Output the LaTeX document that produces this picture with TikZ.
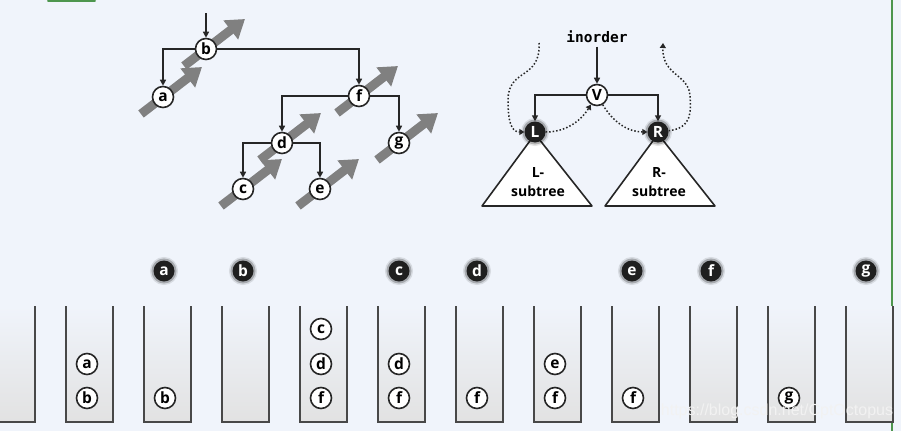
\documentclass[tikz,border=0pt]{standalone}
\usepackage{fontspec}
\setmainfont{Open Sans}
\newfontfamily\monofnt{DejaVu Sans Mono}
\newfontfamily\wmfnt{Liberation Sans}
\usetikzlibrary{arrows.meta,backgrounds}
\definecolor{bg}{RGB}{240,244,251}
\definecolor{ink}{RGB}{38,38,38}
\definecolor{garrow}{RGB}{128,128,128}
\definecolor{sgray}{RGB}{226,226,226}
\definecolor{wallc}{RGB}{72,72,72}
\definecolor{grn}{RGB}{78,150,78}
\begin{document}
\begin{tikzpicture}[x=1pt,y=-1pt,
  tnode/.style={circle,draw=ink,fill=white,line width=1.6pt,minimum size=21pt,inner sep=0pt,
    font=\bfseries\fontsize{15.5}{16}\selectfont},
  dnode/.style={circle,fill=black!88,text=white,minimum size=21pt,inner sep=0pt,
    font=\bfseries\fontsize{15.5}{16}\selectfont,
    preaction={draw=black,line width=7pt,draw opacity=0.10},
    preaction={draw=black,line width=4pt,draw opacity=0.22}},
  conn/.style={draw=ink,line width=1.6pt,-{Triangle[width=6pt,length=6pt]}},
  dotconn/.style={draw=ink,line width=1.5pt,dash pattern=on 1.5pt off 2pt,-{Triangle[width=6pt,length=5pt]}},
  bigarrow/.style={draw=garrow,line width=9pt,-{Triangle[width=23pt,length=18pt]}},
  tri/.style={draw=ink,fill=white,line width=1.6pt,line join=round},
  wallst/.style={draw=wallc,line width=2pt},
  subt/.style={align=center,font=\bfseries\fontsize{14}{19}\selectfont},
]
\useasboundingbox (0,0) rectangle (901,431);
\begin{pgfonlayer}{background}
\fill[bg] (0,0) rectangle (901,431);
\end{pgfonlayer}

% decorations at edges
\draw[grn,line width=2.5pt] (892,0) -- (892,431);
\draw[grn,line width=2pt,line cap=round] (48,0.6) -- (95,0.6);

% ---------- tree ----------
\node[tnode] (b) at (206,49) {b};
\node[tnode] (a) at (163,97) {a};
\node[tnode] (f) at (359,96) {f};
\node[tnode] (d) at (282,143) {d};
\node[tnode] (g) at (399,143) {g};
\node[tnode] (c) at (243,189) {c};
\node[tnode] (e) at (320,189) {e};
\coordinate (btop) at (206,13);

\begin{pgfonlayer}{background}
\foreach \nn in {b,a,f,d,g,c,e}{
  \draw[bigarrow] ([shift={(-22,17)}]\nn.center) -- ([shift={(39,-30)}]\nn.center);
}
\end{pgfonlayer}

\draw[conn] (btop) -- (b);
\draw[conn] (b) -| (a);
\draw[conn] (b) -| (f);
\draw[conn] (f) -| (d);
\draw[conn] (f) -| (g);
\draw[conn] (d) -| (c);
\draw[conn] (d) -| (e);

% ---------- inorder scheme ----------
\draw[tri] (535,134) -- (482,206) -- (592,206) -- cycle;
\draw[tri] (658,134) -- (605,206) -- (715,206) -- cycle;
\node[subt] (ltxt) at (538,182) {L-\\subtree};
\node[subt] (rtxt) at (659,182) {R-\\subtree};

\node[font=\monofnt\bfseries\fontsize{14.5}{15}\selectfont] (io) at (597,37) {inorder};
\node[tnode] (V) at (597,95) {V};
\node[dnode] (L) at (535,132) {L};
\node[dnode] (R) at (658,132) {R};
\draw[conn] (io) -- (V);
\draw[conn] (V) -| (L);
\draw[conn] (V) -| (R);

\coordinate (ls) at (539,43);
\coordinate (re) at (663,43);
\draw[dotconn] (ls) .. controls (541,80) and (508,68) .. (508,100) .. controls (508,124) and (512,132) .. (L);
\draw[dotconn] (L) .. controls (565,132) and (580,122) .. (V);
\draw[dotconn] (V) .. controls (613,122) and (628,132) .. (R);
\draw[dotconn] (R) .. controls (692,128) and (691,112) .. (690,96) .. controls (689,74) and (662,76) .. (re);

% ---------- stacks ----------
\foreach \i in {0,...,11}{
  \pgfmathsetmacro{\xl}{-12+78*\i}
  \pgfmathsetmacro{\xr}{\xl+47}
  \shade[top color=bg,bottom color=sgray] (\xl,306) rectangle (\xr,422);
  \draw[wallst] (\xl,306) -- (\xl,422) -- (\xr,422) -- (\xr,306);
}
\foreach \i/\yy/\lt [count=\n] in {1/398/b,1/364/a,2/398/b,4/398/f,4/364/d,4/329/c,5/398/f,5/364/d,6/398/f,7/398/f,7/364/e,8/398/f,10/398/g}{
  \node[tnode] (s\n) at ({-12+78*\i+21},\yy) {\lt};
}
\foreach \xx/\lt in {164/a,243/b,399/c,477/d,632/e,711/f,866/g}{
  \node[dnode] (o\lt) at (\xx,271) {\lt};
}

\node[text=white!90!gray,font=\wmfnt\fontsize{16}{16}\selectfont] (wm) at (777,411) {https://blog.csdn.net/CptOctopus};
\end{tikzpicture}
\end{document}
